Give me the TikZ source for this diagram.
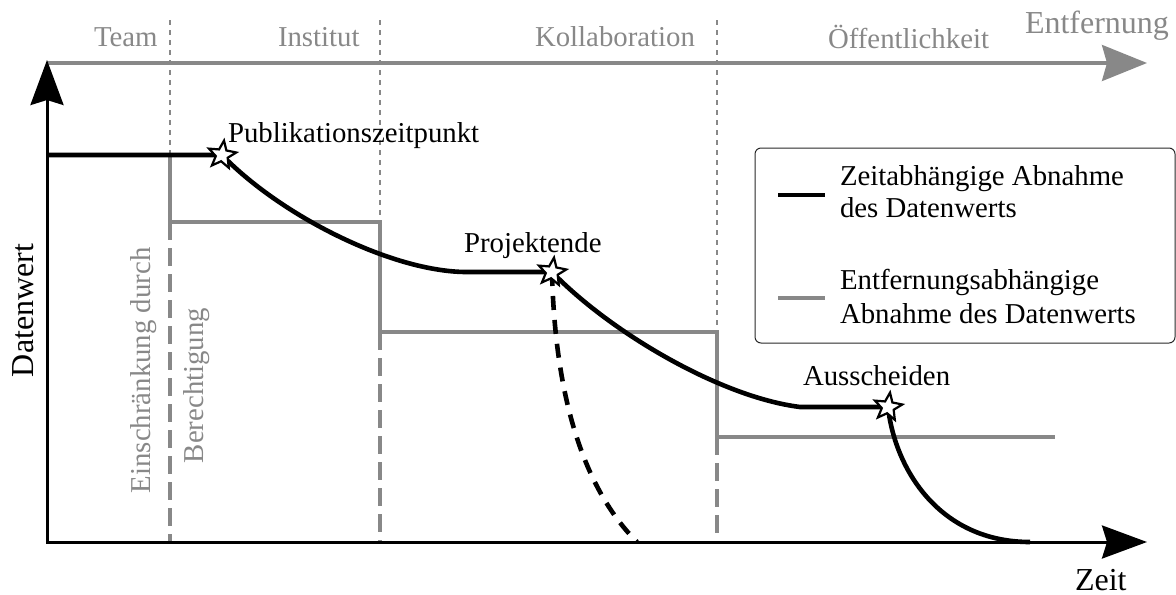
\documentclass[tikz,border=0pt]{standalone}
\usepackage{fontspec}
\setmainfont{Liberation Serif}
\usetikzlibrary{arrows.meta,shapes.geometric}
\definecolor{distgray}{RGB}{136,136,136}
\definecolor{framegray}{RGB}{40,40,40}

\begin{document}
\begin{tikzpicture}[x=0.5pt,y=-0.5pt,
  every node/.style={inner sep=0pt, outer sep=0pt},
  txt/.style={anchor=base west, font=\fontsize{14.4}{16.8}\selectfont},
  bigtxt/.style={anchor=base west, font=\fontsize{16}{19}\selectfont},
  graytxt/.style={txt, text=distgray},
  axis/.style={line width=1.5pt, line join=miter,
    {Stealth[length=22.5pt,width=16.5pt,inset=2.5pt]}-{Stealth[length=22.5pt,width=16.5pt,inset=2.5pt]}},
  distarrow/.style={draw=distgray, line width=1.6pt,
    -{Stealth[length=22.5pt,width=18pt,inset=2.5pt,fill=distgray]}},
  timeline/.style={line width=2.3pt, line join=round},
  altline/.style={line width=2.3pt, dash pattern=on 7pt off 5pt},
  distline/.style={draw=distgray, line width=2pt, line join=miter},
  septhin/.style={draw=distgray, line width=0.7pt, dash pattern=on 2.5pt off 2.5pt},
  septhick/.style={draw=distgray, line width=2pt, dash pattern=on 9pt off 4pt},
  event/.style={star, star points=5, star point ratio=2.3, minimum size=14.5pt,
    draw, line width=1.1pt, fill=white, rotate=-8},
  legendbox/.style={draw=framegray, line width=0.5pt, rounded corners=3pt,
    minimum width=210pt, minimum height=97.5pt},
]
\useasboundingbox (0,0) rectangle (1176,594);

% axes and distance arrow
\coordinate (O) at (47,542);
\coordinate (ytip) at (47,60);
\coordinate (xtip) at (1147,542);
\coordinate (dstart) at (47,63);
\coordinate (dtip) at (1147,63);
\draw[distarrow] (dstart) -- (dtip);

% section boundaries
\coordinate (b1top) at (170,20);  \coordinate (b1mid) at (170,222); \coordinate (b1bot) at (170,542);
\coordinate (b2top) at (380,20);  \coordinate (b2mid) at (380,332); \coordinate (b2bot) at (380,542);
\coordinate (b3top) at (717,20);  \coordinate (b3mid) at (717,437); \coordinate (b3bot) at (717,542);
\coordinate (b1up) at (170,155);  \coordinate (b2up) at (380,222);  \coordinate (b3up) at (717,332);
\draw[septhin] (b1top) -- (b1up);
\draw[septhin] (b2top) -- (b2up);
\draw[septhin] (b3top) -- (b3up);
\draw[septhick] (b1mid) -- (b1bot);
\draw[septhick] (b2mid) -- (b2bot);
\draw[septhick] (b3mid) -- (b3bot);

% distance-dependent value (step function)
\coordinate (g0) at (47,155);
\coordinate (gend) at (1055,437);
\draw[distline] (g0) -- (b1up) -- (b1mid) -- (b2up) -- (b2mid) -- (b3up) -- (b3mid) -- (gend);

\draw[axis] (ytip) -- (O) -- (xtip);

% time-dependent value
\coordinate (e1) at (222,155);
\coordinate (e2) at (552,272);
\coordinate (e3) at (888,407);
\coordinate (p1) at (465,272);
\coordinate (p2) at (800,407);
\coordinate (tend) at (1030,542);
\coordinate (altend) at (637,542);
\draw[timeline] (g0) -- (e1)
  .. controls (280,215) and (390,271) .. (p1) -- (e2)
  .. controls (610,332) and (720,397) .. (p2) -- (e3)
  .. controls (895,470) and (940,542) .. (tend);
\draw[altline] (e2) .. controls (555,400) and (585,490) .. (altend);

\node[event] (s1) at (e1) {};
\node[event] (s2) at (e2) {};
\node[event] (s3) at (e3) {};

% labels
\node[txt] (pub) at (228,142) {Publikationszeitpunkt};
\node[txt] (pend) at (464,252) {Projektende};
\node[txt] (aus) at (803,385) {Ausscheiden};
\node[bigtxt] (zeit) at (1075,590) {Zeit};
\node[bigtxt, rotate=90] (dw) at (33,377) {Datenwert};
\node[bigtxt, text=distgray] (entf) at (1025,33) {Entfernung};
\node[graytxt] (team) at (94,46) {Team};
\node[graytxt] (inst) at (278,46) {Institut};
\node[graytxt] (koll) at (535,46) {Kollaboration};
\node[graytxt] (oeff) at (828,48) {Öffentlichkeit};
\node[graytxt, rotate=90] (einschr) at (150,493) {Einschränkung durch};
\node[graytxt, rotate=90] (ber) at (203,463) {Berechtigung};

% legend
\node[legendbox] (legend) at (965,245.5) {};
\coordinate (l1a) at (778,195); \coordinate (l1b) at (825,195);
\coordinate (l2a) at (778,298); \coordinate (l2b) at (825,298);
\draw[timeline] (l1a) -- (l1b);
\draw[distline] (l2a) -- (l2b);
\node[txt] (lt1) at (840,185) {Zeitabhängige Abnahme};
\node[txt] (lt2) at (840,217) {des Datenwerts};
\node[txt] (lt3) at (840,289) {Entfernungsabhängige};
\node[txt] (lt4) at (840,323) {Abnahme des Datenwerts};
\end{tikzpicture}
\end{document}
